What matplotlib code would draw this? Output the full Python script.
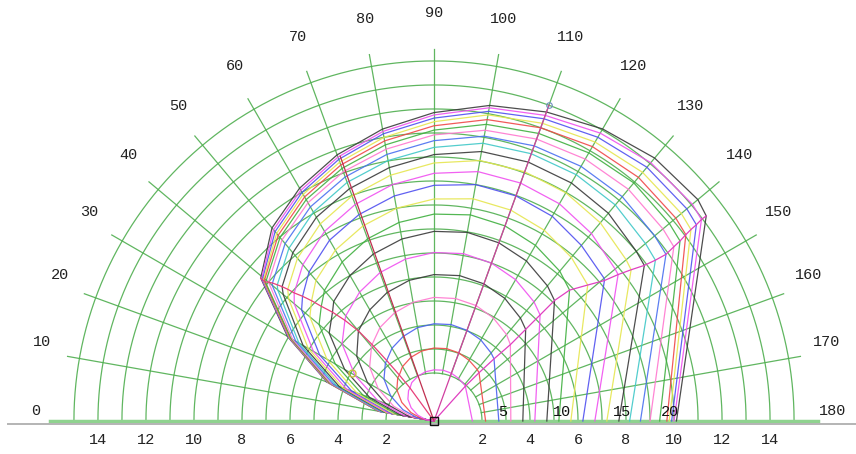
"""
Boat speed polar, one curve per wind speed (0 = upwind on the left, 180 = downwind on the right)
"""

import numpy as np
import matplotlib.pyplot as plt

winds = [24, 23, 22, 21, 20, 19, 18, 17, 16, 15, 14, 13, 12, 11, 10, 9, 8, 7, 6, 5, 4, 3]

# boat speed at these true wind angles, one row per wind speed
grid_angles = [10, 20, 30, 40, 50, 60, 70, 80, 90, 100, 110, 120, 130, 140]
speeds = [
    [2.35, 4.75, 7.05, 9.40, 10.50, 11.20, 11.80, 12.35, 12.85, 13.35, 13.70, 14.05, 14.30, 14.35],
    [2.35, 4.72, 7.00, 9.35, 10.40, 11.10, 11.70, 12.25, 12.75, 13.25, 13.55, 13.85, 14.05, 14.05],
    [2.34, 4.70, 6.98, 9.30, 10.30, 11.00, 11.60, 12.15, 12.62, 13.10, 13.40, 13.65, 13.80, 13.75],
    [2.33, 4.68, 6.95, 9.25, 10.20, 10.90, 11.48, 12.00, 12.47, 12.95, 13.20, 13.42, 13.52, 13.45],
    [2.32, 4.65, 6.92, 9.20, 10.10, 10.78, 11.35, 11.85, 12.30, 12.75, 13.00, 13.20, 13.25, 13.15],
    [2.31, 4.62, 6.88, 9.12, 9.98, 10.65, 11.20, 11.68, 12.12, 12.55, 12.75, 12.90, 12.95, 12.80],
    [2.28, 4.56, 6.80, 9.00, 9.85, 10.50, 11.05, 11.50, 11.92, 12.30, 12.50, 12.60, 12.60, 12.45],
    [2.22, 4.45, 6.65, 8.80, 9.65, 10.30, 10.82, 11.28, 11.68, 12.05, 12.20, 12.25, 12.20, 12.00],
    [2.16, 4.33, 6.50, 8.50, 9.40, 10.05, 10.58, 11.02, 11.40, 11.75, 11.85, 11.85, 11.75, 11.50],
    [2.10, 4.20, 6.30, 8.20, 9.15, 9.80, 10.30, 10.72, 11.10, 11.40, 11.48, 11.45, 11.30, 11.00],
    [2.02, 4.05, 6.05, 7.90, 8.85, 9.48, 9.98, 10.40, 10.75, 11.02, 11.05, 10.98, 10.78, 10.45],
    [1.93, 3.87, 5.80, 7.60, 8.50, 9.12, 9.60, 10.00, 10.32, 10.55, 10.55, 10.45, 10.20, 9.85],
    [1.80, 3.65, 5.50, 7.20, 8.10, 8.70, 9.15, 9.52, 9.82, 10.00, 9.98, 9.85, 9.55, 9.25],
    [1.70, 3.42, 5.15, 6.75, 7.65, 8.22, 8.65, 9.00, 9.25, 9.40, 9.35, 9.18, 8.90, 8.50],
    [1.55, 3.15, 4.75, 6.25, 7.10, 7.65, 8.08, 8.40, 8.62, 8.72, 8.65, 8.45, 8.15, 7.80],
    [1.40, 2.85, 4.30, 5.70, 6.50, 7.00, 7.40, 7.70, 7.90, 7.98, 7.90, 7.70, 7.35, 7.00],
    [1.25, 2.50, 3.80, 5.00, 5.72, 6.20, 6.58, 6.85, 7.02, 7.08, 7.00, 6.80, 6.48, 6.20],
    [1.05, 2.15, 3.20, 4.20, 4.90, 5.35, 5.70, 5.95, 6.10, 6.15, 6.08, 5.90, 5.60, 5.30],
    [0.88, 1.78, 2.68, 3.50, 4.05, 4.50, 4.80, 5.02, 5.15, 5.18, 5.12, 4.95, 4.70, 4.40],
    [0.68, 1.38, 2.08, 2.72, 3.15, 3.50, 3.75, 3.95, 4.05, 4.08, 4.02, 3.90, 3.70, 3.50],
    [0.50, 1.02, 1.55, 2.02, 2.35, 2.62, 2.82, 2.96, 3.04, 3.06, 3.02, 2.92, 2.80, 2.65],
    [0.36, 0.72, 1.10, 1.42, 1.65, 1.85, 1.98, 2.08, 2.13, 2.15, 2.12, 2.05, 1.97, 1.85],
]

# corners: best upwind (beat) point and best downwind (run) point, then dead run speed
beat_angle = [39.5, 39.5, 39.5, 39.5, 39.5, 39.5, 40, 40.5, 41, 41.5, 42, 42.5, 43.5, 44.5, 45.5, 47, 48.5, 50, 51, 52, 53, 54]
beat_speed = [9.35, 9.30, 9.25, 9.20, 9.15, 9.10, 9.00, 8.85, 8.65, 8.45, 8.20, 7.90, 7.55, 7.15, 6.70, 6.20, 5.60, 4.90, 4.10, 3.20, 2.40, 1.70]
run_angle = [143, 143, 143.2, 143.3, 143.5, 143.8, 144, 144.3, 144, 143.5, 142.5, 141.5, 140.5, 138.5, 136, 135, 135, 135, 135, 134, 133, 132]
run_speed = [14.20, 13.95, 13.65, 13.35, 13.05, 12.70, 12.35, 11.90, 11.40, 10.90, 10.35, 9.80, 9.20, 8.55, 7.85, 7.10, 6.25, 5.40, 4.50, 3.60, 2.75, 1.95]
dead_run = [10.10, 10.00, 9.90, 9.80, 9.70, 9.40, 9.00, 8.60, 8.15, 7.70, 7.20, 6.70, 6.20, 5.70, 5.20, 4.70, 4.20, 3.70, 3.20, 2.70, 2.15, 1.60]

labelled_winds = [5, 10, 15, 20]
reach_angle, reach_speed = 70.5, 11.7
best_angle, best_speed = 110, 14.0
mark_angle, mark_speed = 30.3, 3.96

angle_labels = list(range(0, 181, 10))
dist_labels = [2, 4, 6, 8, 10, 12, 14]

# one colour per wind speed, same order as winds
colours = ['#3a3a3a', '#f050f0', '#5050f0', '#e6e650', '#f04848', '#40b040',
           '#ff78d0', '#4a70f0', '#40c8c8', '#3a3a3a', '#e6e650', '#f050f0',
           '#5050f0', '#e6e650', '#40b040', '#3a3a3a', '#f050f0', '#3a3a3a',
           '#ff78d0', '#4a60f0', '#f04848', '#f050f0']


def to_xy(angle, r):
    a = np.radians(np.asarray(angle, dtype=float))
    r = np.asarray(r, dtype=float)
    return -r * np.cos(a), r * np.sin(a)


def draw_grid(ax):
    green = '#4fae4f'
    t = np.linspace(0, 180, 361)
    for r in range(2, 16):
        x, y = to_xy(t, np.full_like(t, r))
        ax.plot(x, y, color=green, lw=0.9, alpha=0.9, zorder=1)
    for a in range(10, 180, 10):
        x, y = to_xy([a, a], [2, 15.5])
        ax.plot(x, y, color=green, lw=0.9, alpha=0.9, zorder=1)
    ax.plot([-16, 16], [0, 0], color='#8fd28f', lw=2.5, zorder=1)
    ax.plot([-17.75, 18], [-0.13, -0.13], color='#b4b4b4', lw=1.4, zorder=1)
    for a in angle_labels:
        x, y = to_xy(a, 16.6)
        ax.text(x, y + 0.4, str(a), ha='center', va='center', fontsize=11, color='#222222')
    for d in dist_labels:
        for s in (-1, 1):
            ax.text(s * d, -0.8, str(d), ha='center', va='center', fontsize=11, color='#222222')


def plot_polar(ax):
    for i, w in enumerate(winds):
        pts = [(0.0, 0.0), (beat_angle[i], beat_speed[i]), (run_angle[i], run_speed[i]), (180.0, dead_run[i])]
        for a, r in zip(grid_angles, speeds[i]):
            if a < run_angle[i] and a != beat_angle[i]:
                pts.append((a, r))
        pts.sort()
        x, y = to_xy([p[0] for p in pts], [p[1] for p in pts])
        ax.plot(x, y, color=colours[i], lw=0.9, alpha=0.9, zorder=3)
        if w in labelled_winds:
            ax.text(dead_run[i] + 0.15, 0.37, str(w), ha='center', va='center', fontsize=11, color='#111111', zorder=5)

    # beat and run optimum lines
    x, y = to_xy([0] + beat_angle[::-1], [0] + beat_speed[::-1])
    ax.plot(x, y, color='#e8407a', lw=0.9, zorder=4)
    x, y = to_xy([0] + run_angle[::-1], [0] + run_speed[::-1])
    ax.plot(x, y, color='#e040c0', lw=0.9, zorder=4)

    x, y = to_xy([0, reach_angle], [0, reach_speed])
    ax.plot(x, y, color='#c03050', lw=0.9, zorder=4)
    x, y = to_xy([0, best_angle], [0, best_speed])
    ax.plot(x, y, color='#d040a0', lw=0.9, zorder=4)
    x, y = to_xy(best_angle, best_speed)
    ax.plot(x, y, 'o', ms=4, mfc='none', mec='#7090c0', mew=0.8, zorder=5)
    x, y = to_xy(mark_angle, mark_speed)
    ax.plot(x, y, 'o', ms=5, mfc='none', mec='#c8c040', mew=1.0, zorder=5)
    ax.plot(0, 0, 's', ms=6, mfc='none', mec='#111111', mew=1.0, zorder=6)


if __name__ == "__main__":
    plt.rcParams['font.family'] = ['Liberation Mono', 'DejaVu Sans Mono']
    fig = plt.figure(figsize=(8.56, 4.54), dpi=100)
    ax = fig.add_axes([0, 0, 1, 1])
    draw_grid(ax)
    plot_polar(ax)
    ax.set_xlim(-18.08, 17.58)
    ax.set_ylim(-1.375, 17.54)
    ax.axis('off')
    fig.savefig("out.png", dpi=100)
